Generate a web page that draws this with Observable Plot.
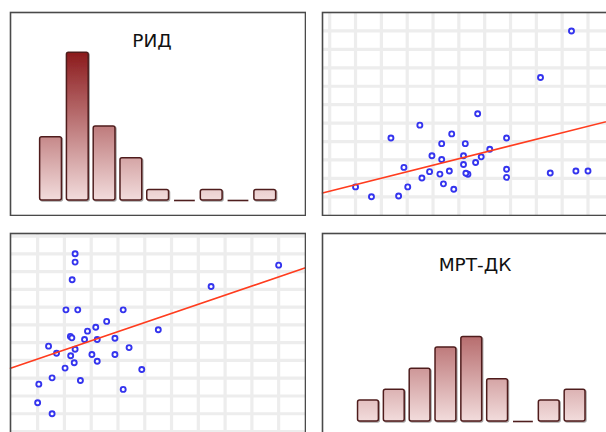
<!DOCTYPE html>
<html><head><meta charset="utf-8">
<script src="https://cdn.jsdelivr.net/npm/d3@7"></script>
<script src="https://cdn.jsdelivr.net/npm/@observablehq/plot@0.6"></script>
<style>
html,body{margin:0;padding:0;background:#fff;overflow:hidden;}
#wrap{position:relative;width:606px;height:432px;overflow:hidden;background:#fff;}
</style></head><body><div id="wrap"></div>
<script>
// Variable names (panel titles on the diagonal)
const names = ["РИД", "МРТ-ДК"];
const rid = [21.9, 21.9, 20.9, 18.8, 22.8, 38.2, 32.6, 28.9, 26.1, 20.3, 25.1, 29.4, 35.4, 50.1, 68.0, 90.9, 12.9,
             15.6, 21.9, 20.4, 21.6, 27.6, 29.4, 35.4, 40.2, 18.5, 44.5, 14.1, 23.7, 9.6, 38.2, 9.2, 14.1, 20.8];
const mrt = [90.0, 85.9, 77.2, 62.4, 62.4, 62.4, 56.7, 53.8, 51.9, 49.3, 47.8, 47.8, 48.4, 52.6, 73.9, 84.4, 44.5,
             41.0, 43.0, 39.8, 36.3, 40.4, 37.1, 40.4, 43.8, 33.7, 33.0, 28.9, 27.6, 25.8, 23.2, 16.6, 11.2, 48.6];
const nBins = 9;
const countMax = 17.8;

const W = 297, H = 205;
const wrap = document.getElementById("wrap");
const ns = "http://www.w3.org/2000/svg";

function edges(v) { const [a, b] = d3.extent(v); return {a, b, w: (b - a) / nBins}; }
function gridValues(v) {
  const {a, w} = edges(v); const out = [];
  for (let k = -4; k <= nBins + 4; k++) { const t = a + k * w; if (t > 0.5 && t < 99.5) out.push(t); }
  return out;
}
function place(p, left, top) {
  p.style.position = "absolute"; p.style.left = left + "px"; p.style.top = top + "px";
  wrap.appendChild(p);
}
const frame = () => Plot.frame({stroke: "#4a4a4a", strokeWidth: 1.6});

function histogram(values, id, title, dx, dy) {
  const {a, b, w} = edges(values);
  const thresholds = d3.range(1, nBins).map(k => a + k * w);
  const bins = d3.bin().domain([a, b]).thresholds(thresholds)(values);
  const full = bins.filter(d => d.length > 0), empty = bins.filter(d => d.length === 0);
  const p = Plot.plot({
    width: W, height: H, margin: 1,
    x: {domain: [0, 100], axis: null},
    y: {domain: [0, countMax], range: [H - 16, 1], axis: null},
    marks: [
      Plot.rectY(full, {x1: "x0", x2: "x1", y1: 0, y2: d => d.length, insetLeft: 2.5, insetRight: 2.5, rx: 2,
        fill: `url(#${id})`, stroke: "#4f1e1e", strokeWidth: 1.5}),
      Plot.ruleY(empty, {x1: "x0", x2: "x1", y: 0, insetLeft: 3, insetRight: 3, stroke: "#4f1e1e", strokeWidth: 1.6}),
      Plot.text([title], {frameAnchor: "top", dx, dy, fontSize: 18.5, fontFamily: "DejaVu Sans", fill: "#111"}),
      frame()
    ]
  });
  const ys = p.scale("y");
  const defs = document.createElementNS(ns, "defs");
  defs.innerHTML = `<linearGradient id="${id}" gradientUnits="userSpaceOnUse" x1="0" x2="0" y1="${ys.apply(0)}" y2="${ys.apply(14)}">
    <stop offset="0" stop-color="#f2dcdc"/><stop offset="1" stop-color="#8b1a1c"/></linearGradient>
    <filter id="${id}s" x="-20%" y="-20%" width="150%" height="150%">
    <feDropShadow dx="1" dy="1" stdDeviation="0.7" flood-color="#000" flood-opacity="0.35"/></filter>`;
  p.prepend(defs);
  p.querySelectorAll('g[aria-label="rect"]').forEach(g => g.setAttribute("filter", `url(#${id}s)`));
  return p;
}

function scatter(xs, ys, id) {
  const data = xs.map((x, i) => ({x, y: ys[i]}));
  const mx = d3.mean(xs), my = d3.mean(ys);
  const slope = d3.sum(data, d => (d.x - mx) * (d.y - my)) / d3.sum(data, d => (d.x - mx) ** 2);
  const icpt = my - slope * mx;
  const fit = [0, 100].map(x => ({x, y: icpt + slope * x}));
  const p = Plot.plot({
    width: W, height: H, margin: 1,
    x: {domain: [0, 100], axis: null},
    y: {domain: [0, 100], axis: null},
    marks: [
      Plot.ruleX(gridValues(xs), {stroke: "#ededed", strokeWidth: 3.2}),
      Plot.ruleY(gridValues(ys), {stroke: "#ededed", strokeWidth: 3.2}),
      Plot.dot(data, {x: "x", y: "y", r: 2.5, stroke: "#3434ee", strokeWidth: 1.9, fill: "#ffffff"}),
      Plot.line(fit, {x: "x", y: "y", stroke: "#ff3c1e", strokeWidth: 1.6}),
      frame()
    ]
  });
  const defs = document.createElementNS(ns, "defs");
  defs.innerHTML = `<filter id="${id}b" filterUnits="userSpaceOnUse" x="0" y="0" width="${W}" height="${H}"><feGaussianBlur stdDeviation="0.6"/></filter>`;
  p.prepend(defs);
  p.querySelectorAll('g[aria-label="rule"]').forEach(g => g.setAttribute("filter", `url(#${id}b)`));
  return p;
}

place(histogram(rid, "gTL", names[0], -6, 21), 9, 11);
place(scatter(mrt, rid, "sTR"), 321, 11);
place(scatter(rid, mrt, "sBL"), 9, 232);
place(histogram(mrt, "gBR", names[1], 5, 24), 321, 232);
</script></body></html>
